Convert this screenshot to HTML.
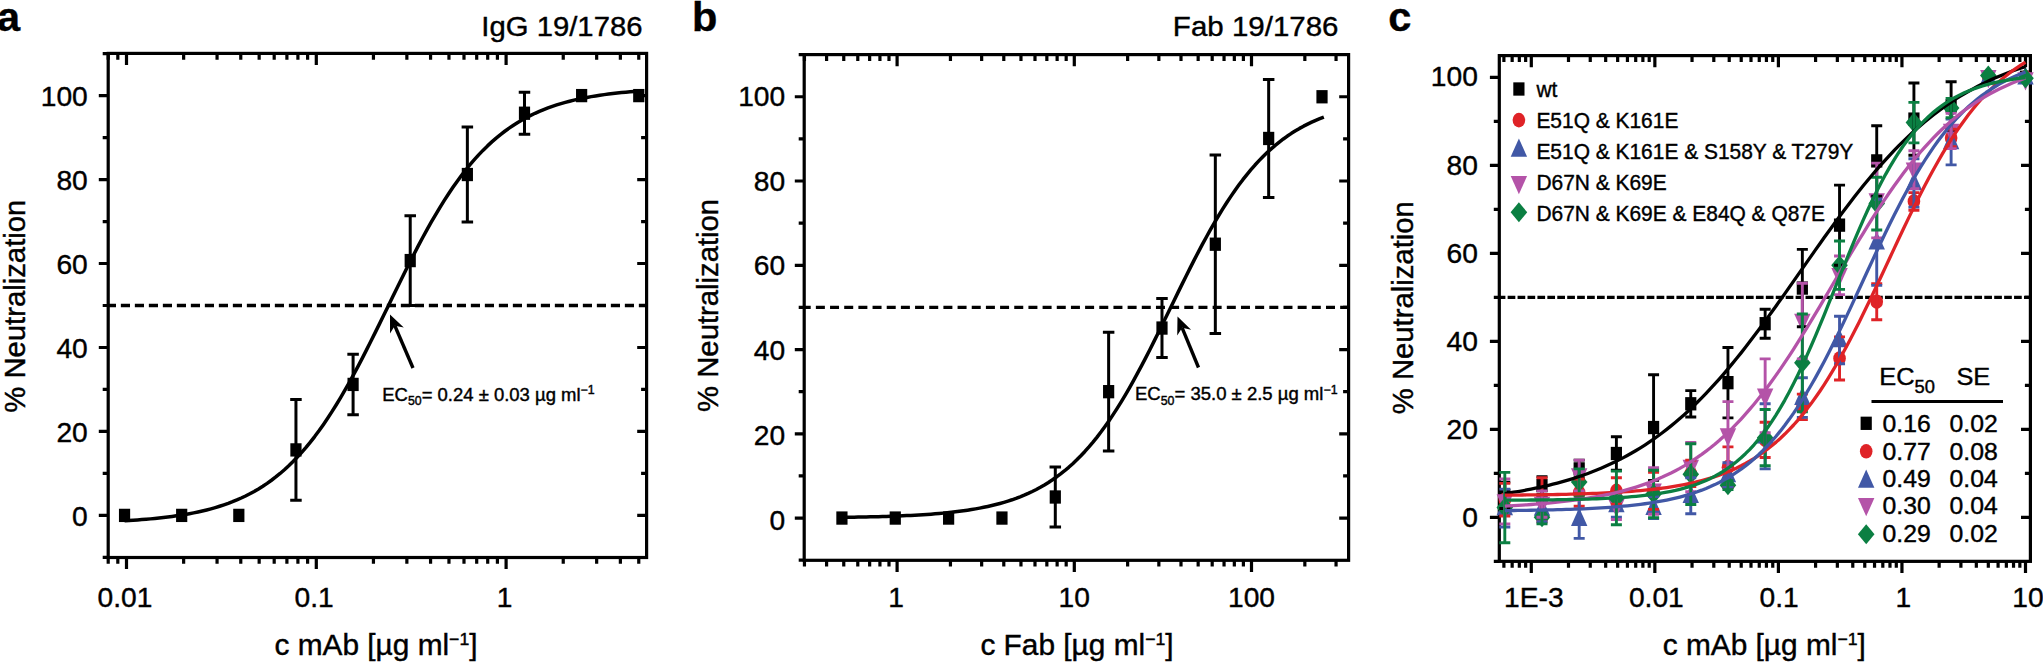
<!DOCTYPE html>
<html><head><meta charset="utf-8"><title>Neutralization curves</title>
<style>html,body{margin:0;padding:0;background:#fff}svg{display:block}text{font-family:"Liberation Sans", Arial, Helvetica, sans-serif;fill:#000;stroke:#000;stroke-width:.4px}</style>
</head><body>
<svg width="2043" height="662" viewBox="0 0 2043 662">
<rect width="2043" height="662" fill="#fff"/>
<rect x="108.2" y="53.4" width="538.4" height="504.1" fill="none" stroke="#000" stroke-width="3.2"/>
<path d="M108.2 515.4h-9.4M646.6 515.4h-9.4M108.2 431.44h-9.4M646.6 431.44h-9.4M108.2 347.48h-9.4M646.6 347.48h-9.4M108.2 263.52h-9.4M646.6 263.52h-9.4M108.2 179.56h-9.4M646.6 179.56h-9.4M108.2 95.6h-9.4M646.6 95.6h-9.4M108.2 557.38h-5.5M108.2 473.42h-5.5M646.6 473.42h-5.5M108.2 389.46h-5.5M646.6 389.46h-5.5M108.2 305.5h-5.5M646.6 305.5h-5.5M108.2 221.54h-5.5M646.6 221.54h-5.5M108.2 137.58h-5.5M646.6 137.58h-5.5M108.2 53.62h-5.5M108.2 53.4v6.3M108.2 557.5v6.3M117.82 53.4v6.3M117.82 557.5v6.3M126.5 53.4v11.6M126.5 557.5v11.6M183.64 53.4v6.3M183.64 557.5v6.3M217.06 53.4v6.3M217.06 557.5v6.3M240.77 53.4v6.3M240.77 557.5v6.3M259.16 53.4v6.3M259.16 557.5v6.3M274.19 53.4v6.3M274.19 557.5v6.3M286.9 53.4v6.3M286.9 557.5v6.3M297.91 53.4v6.3M297.91 557.5v6.3M307.62 53.4v6.3M307.62 557.5v6.3M316.3 53.4v11.6M316.3 557.5v11.6M373.44 53.4v6.3M373.44 557.5v6.3M406.86 53.4v6.3M406.86 557.5v6.3M430.57 53.4v6.3M430.57 557.5v6.3M448.96 53.4v6.3M448.96 557.5v6.3M463.99 53.4v6.3M463.99 557.5v6.3M476.7 53.4v6.3M476.7 557.5v6.3M487.71 53.4v6.3M487.71 557.5v6.3M497.42 53.4v6.3M497.42 557.5v6.3M506.1 53.4v11.6M506.1 557.5v11.6M563.24 53.4v6.3M563.24 557.5v6.3M596.66 53.4v6.3M596.66 557.5v6.3M620.37 53.4v6.3M620.37 557.5v6.3M638.76 53.4v6.3M638.76 557.5v6.3" fill="none" stroke="#000" stroke-width="3.2"/>
<text transform="translate(87.8 526.2) scale(0.993 1)" text-anchor="end" font-size="28.4">0</text>
<text transform="translate(87.8 442.1) scale(0.993 1)" text-anchor="end" font-size="28.4">20</text>
<text transform="translate(87.8 358) scale(0.993 1)" text-anchor="end" font-size="28.4">40</text>
<text transform="translate(87.8 273.9) scale(0.993 1)" text-anchor="end" font-size="28.4">60</text>
<text transform="translate(87.8 189.8) scale(0.993 1)" text-anchor="end" font-size="28.4">80</text>
<text transform="translate(87.8 105.7) scale(0.993 1)" text-anchor="end" font-size="28.4">100</text>
<text transform="translate(125 606.9) scale(0.993 1)" text-anchor="middle" font-size="28.4">0.01</text>
<text transform="translate(314.1 606.9) scale(0.993 1)" text-anchor="middle" font-size="28.4">0.1</text>
<text transform="translate(504.6 606.9) scale(0.993 1)" text-anchor="middle" font-size="28.4">1</text>
<text transform="translate(25.4 306.2) rotate(-90) scale(1.02 1)" text-anchor="middle" font-size="28.7">% Neutralization</text>
<text transform="translate(376 655.2) scale(1.04 1)" text-anchor="middle" font-size="28.7">c mAb [µg ml<tspan font-size="17" dy="-10.5">−1</tspan><tspan dy="10.5">]</tspan></text>
<path d="M108.2 305.5H646.6" stroke="#000" stroke-width="3.3" stroke-dasharray="9.15 4.85" stroke-dashoffset="1.35" fill="none"/>
<text x="-3" y="31" font-size="41.5" font-weight="bold" stroke="none">a</text>
<text transform="translate(642.5 36) scale(1.035 1)" text-anchor="end" font-size="28.3">IgG 19/1786</text>
<path d="M295.95 399.54V500.29M290.2 399.54h11.5M290.2 500.29h11.5" fill="none" stroke="#000" stroke-width="3.0"/>
<path d="M353.09 354.2V414.65M347.34 354.2h11.5M347.34 414.65h11.5" fill="none" stroke="#000" stroke-width="3.0"/>
<path d="M410.22 215.66V305.5M404.47 215.66h11.5M404.47 305.5h11.5" fill="none" stroke="#000" stroke-width="3.0"/>
<path d="M467.36 127.08V221.96M461.61 127.08h11.5M461.61 221.96h11.5" fill="none" stroke="#000" stroke-width="3.0"/>
<path d="M524.49 92.24V134.22M518.74 92.24h11.5M518.74 134.22h11.5" fill="none" stroke="#000" stroke-width="3.0"/>
<rect x="118.95" y="508.75" width="11.2" height="13.3" fill="#000"/>
<rect x="176.08" y="508.75" width="11.2" height="13.3" fill="#000"/>
<rect x="233.22" y="508.75" width="11.2" height="13.3" fill="#000"/>
<rect x="290.35" y="443.26" width="11.2" height="13.3" fill="#000"/>
<rect x="347.49" y="377.77" width="11.2" height="13.3" fill="#000"/>
<rect x="404.62" y="253.93" width="11.2" height="13.3" fill="#000"/>
<rect x="461.76" y="167.87" width="11.2" height="13.3" fill="#000"/>
<rect x="518.89" y="106.58" width="11.2" height="13.3" fill="#000"/>
<rect x="576.03" y="88.95" width="11.2" height="13.3" fill="#000"/>
<rect x="633.16" y="88.95" width="11.2" height="13.3" fill="#000"/>
<path d="M124.55 520.76L128.87 520.51L133.19 520.23L137.51 519.93L141.83 519.61L146.15 519.26L150.47 518.88L154.79 518.47L159.11 518.02L163.44 517.54L167.76 517.02L172.08 516.46L176.4 515.85L180.72 515.19L185.04 514.48L189.36 513.7L193.68 512.87L198 511.97L202.33 511L206.65 509.95L210.97 508.82L215.29 507.6L219.61 506.28L223.93 504.86L228.25 503.34L232.57 501.69L236.9 499.92L241.22 498.02L245.54 495.98L249.86 493.79L254.18 491.44L258.5 488.92L262.82 486.22L267.14 483.33L271.46 480.25L275.79 476.96L280.11 473.45L284.43 469.72L288.75 465.75L293.07 461.53L297.39 457.07L301.71 452.34L306.03 447.36L310.36 442.1L314.68 436.56L319 430.75L323.32 424.66L327.64 418.3L331.96 411.66L336.28 404.76L340.6 397.6L344.92 390.18L349.25 382.53L353.57 374.66L357.89 366.58L362.21 358.32L366.53 349.89L370.85 341.32L375.17 332.64L379.49 323.87L383.82 315.04L388.14 306.17L392.46 297.31L396.78 288.47L401.1 279.69L405.42 270.99L409.74 262.4L414.06 253.95L418.38 245.66L422.71 237.55L427.03 229.65L431.35 221.96L435.67 214.51L439.99 207.31L444.31 200.37L448.63 193.69L452.95 187.28L457.28 181.15L461.6 175.3L465.92 169.73L470.24 164.42L474.56 159.39L478.88 154.63L483.2 150.13L487.52 145.88L491.84 141.87L496.17 138.1L500.49 134.56L504.81 131.24L509.13 128.12L513.45 125.21L517.77 122.48L522.09 119.93L526.41 117.56L530.74 115.34L535.06 113.28L539.38 111.35L543.7 109.57L548.02 107.9L552.34 106.36L556.66 104.93L560.98 103.59L565.3 102.36L569.63 101.21L573.95 100.15L578.27 99.17L582.59 98.26L586.91 97.42L591.23 96.64L595.55 95.92L599.87 95.25L604.2 94.63L608.52 94.06L612.84 93.53L617.16 93.05L621.48 92.6L625.8 92.18L630.12 91.8L634.44 91.44L638.76 91.11" fill="none" stroke="#000" stroke-width="3.5" stroke-linejoin="round"/>
<path d="M413 368L394.84 325.75" stroke="#000" stroke-width="3.4" fill="none"/>
<path d="M390 314.5L403.8 327.62L394.84 325.75L390.02 333.54Z" fill="#000"/>
<text x="382.3" y="400.5" font-size="18" textLength="212.3" lengthAdjust="spacingAndGlyphs">EC<tspan font-size="12" dy="4.2">50</tspan><tspan dy="-4.2">= 0.24 ± 0.03 µg ml</tspan><tspan font-size="12" dy="-6.5">−1</tspan></text>
<rect x="804.2" y="54.6" width="544.4" height="505.7" fill="none" stroke="#000" stroke-width="3.2"/>
<path d="M804.2 518.06h-9.4M1348.6 518.06h-9.4M804.2 433.8h-9.4M1348.6 433.8h-9.4M804.2 349.54h-9.4M1348.6 349.54h-9.4M804.2 265.28h-9.4M1348.6 265.28h-9.4M804.2 181.02h-9.4M1348.6 181.02h-9.4M804.2 96.76h-9.4M1348.6 96.76h-9.4M804.2 560.19h-5.5M804.2 475.93h-5.5M1348.6 475.93h-5.5M804.2 391.67h-5.5M1348.6 391.67h-5.5M804.2 307.41h-5.5M1348.6 307.41h-5.5M804.2 223.15h-5.5M1348.6 223.15h-5.5M804.2 138.89h-5.5M1348.6 138.89h-5.5M804.2 54.63h-5.5M804.45 54.6v6.3M804.45 560.3v6.3M826.59 54.6v6.3M826.59 560.3v6.3M843.76 54.6v6.3M843.76 560.3v6.3M857.79 54.6v6.3M857.79 560.3v6.3M869.65 54.6v6.3M869.65 560.3v6.3M879.93 54.6v6.3M879.93 560.3v6.3M888.99 54.6v6.3M888.99 560.3v6.3M897.1 54.6v11.6M897.1 560.3v11.6M950.44 54.6v6.3M950.44 560.3v6.3M981.65 54.6v6.3M981.65 560.3v6.3M1003.79 54.6v6.3M1003.79 560.3v6.3M1020.96 54.6v6.3M1020.96 560.3v6.3M1034.99 54.6v6.3M1034.99 560.3v6.3M1046.85 54.6v6.3M1046.85 560.3v6.3M1057.13 54.6v6.3M1057.13 560.3v6.3M1066.19 54.6v6.3M1066.19 560.3v6.3M1074.3 54.6v11.6M1074.3 560.3v11.6M1127.64 54.6v6.3M1127.64 560.3v6.3M1158.85 54.6v6.3M1158.85 560.3v6.3M1180.99 54.6v6.3M1180.99 560.3v6.3M1198.16 54.6v6.3M1198.16 560.3v6.3M1212.19 54.6v6.3M1212.19 560.3v6.3M1224.05 54.6v6.3M1224.05 560.3v6.3M1234.33 54.6v6.3M1234.33 560.3v6.3M1243.39 54.6v6.3M1243.39 560.3v6.3M1251.5 54.6v11.6M1251.5 560.3v11.6M1304.84 54.6v6.3M1304.84 560.3v6.3M1336.05 54.6v6.3M1336.05 560.3v6.3" fill="none" stroke="#000" stroke-width="3.2"/>
<text transform="translate(785.2 529.76) scale(0.993 1)" text-anchor="end" font-size="28.4">0</text>
<text transform="translate(785.2 444.96) scale(0.993 1)" text-anchor="end" font-size="28.4">20</text>
<text transform="translate(785.2 360.16) scale(0.993 1)" text-anchor="end" font-size="28.4">40</text>
<text transform="translate(785.2 275.36) scale(0.993 1)" text-anchor="end" font-size="28.4">60</text>
<text transform="translate(785.2 190.56) scale(0.993 1)" text-anchor="end" font-size="28.4">80</text>
<text transform="translate(785.2 105.76) scale(0.993 1)" text-anchor="end" font-size="28.4">100</text>
<text transform="translate(896.1 606.9) scale(0.993 1)" text-anchor="middle" font-size="28.4">1</text>
<text transform="translate(1074.3 606.9) scale(0.993 1)" text-anchor="middle" font-size="28.4">10</text>
<text transform="translate(1251.5 606.9) scale(0.993 1)" text-anchor="middle" font-size="28.4">100</text>
<text transform="translate(717.6 305.4) rotate(-90) scale(1.02 1)" text-anchor="middle" font-size="28.7">% Neutralization</text>
<text transform="translate(1077 655.2) scale(1.04 1)" text-anchor="middle" font-size="28.7">c Fab [µg ml<tspan font-size="17" dy="-10.5">−1</tspan><tspan dy="10.5">]</tspan></text>
<path d="M804.2 307.41H1348.6" stroke="#000" stroke-width="3.3" stroke-dasharray="9.0 5.17" stroke-dashoffset="2.5" fill="none"/>
<text x="692" y="31" font-size="41.5" font-weight="bold" stroke="none">b</text>
<text transform="translate(1338.5 36) scale(1.035 1)" text-anchor="end" font-size="28.5">Fab 19/1786</text>
<path d="M1055.3 467.08V526.91M1049.55 467.08h11.5M1049.55 526.91h11.5" fill="none" stroke="#000" stroke-width="3.0"/>
<path d="M1108.64 332.27V451.07M1102.89 332.27h11.5M1102.89 451.07h11.5" fill="none" stroke="#000" stroke-width="3.0"/>
<path d="M1161.99 298.56V357.54M1156.24 298.56h11.5M1156.24 357.54h11.5" fill="none" stroke="#000" stroke-width="3.0"/>
<path d="M1215.33 154.9V333.53M1209.58 154.9h11.5M1209.58 333.53h11.5" fill="none" stroke="#000" stroke-width="3.0"/>
<path d="M1268.67 79.49V197.45M1262.92 79.49h11.5M1262.92 197.45h11.5" fill="none" stroke="#000" stroke-width="3.0"/>
<rect x="836.33" y="511.41" width="11.2" height="13.3" fill="#000"/>
<rect x="889.67" y="511.41" width="11.2" height="13.3" fill="#000"/>
<rect x="943.02" y="511.41" width="11.2" height="13.3" fill="#000"/>
<rect x="996.36" y="511.41" width="11.2" height="13.3" fill="#000"/>
<rect x="1049.7" y="490.34" width="11.2" height="13.3" fill="#000"/>
<rect x="1103.04" y="385.02" width="11.2" height="13.3" fill="#000"/>
<rect x="1156.39" y="321.4" width="11.2" height="13.3" fill="#000"/>
<rect x="1209.73" y="237.56" width="11.2" height="13.3" fill="#000"/>
<rect x="1263.07" y="131.82" width="11.2" height="13.3" fill="#000"/>
<rect x="1316.41" y="90.11" width="11.2" height="13.3" fill="#000"/>
<path d="M841.93 517.37L845.98 517.31L850.03 517.25L854.08 517.18L858.13 517.11L862.18 517.03L866.23 516.95L870.28 516.86L874.33 516.76L878.38 516.65L882.43 516.54L886.48 516.41L890.53 516.28L894.58 516.13L898.63 515.97L902.68 515.8L906.73 515.62L910.78 515.42L914.83 515.21L918.88 514.97L922.93 514.72L926.97 514.45L931.02 514.16L935.07 513.84L939.12 513.49L943.17 513.12L947.22 512.72L951.27 512.29L955.32 511.82L959.37 511.32L963.42 510.78L967.47 510.19L971.52 509.56L975.57 508.87L979.62 508.14L983.67 507.34L987.72 506.49L991.77 505.56L995.82 504.57L999.87 503.5L1003.92 502.35L1007.97 501.11L1012.02 499.78L1016.07 498.35L1020.12 496.81L1024.17 495.16L1028.22 493.39L1032.27 491.49L1036.32 489.46L1040.36 487.28L1044.41 484.95L1048.46 482.46L1052.51 479.8L1056.56 476.97L1060.61 473.94L1064.66 470.73L1068.71 467.31L1072.76 463.68L1076.81 459.83L1080.86 455.75L1084.91 451.45L1088.96 446.9L1093.01 442.11L1097.06 437.07L1101.11 431.78L1105.16 426.24L1109.21 420.44L1113.26 414.4L1117.31 408.11L1121.36 401.57L1125.41 394.8L1129.46 387.81L1133.51 380.6L1137.56 373.2L1141.61 365.6L1145.66 357.84L1149.71 349.94L1153.76 341.9L1157.8 333.76L1161.85 325.54L1165.9 317.27L1169.95 308.96L1174 300.65L1178.05 292.36L1182.1 284.12L1186.15 275.94L1190.2 267.87L1194.25 259.91L1198.3 252.09L1202.35 244.43L1206.4 236.96L1210.45 229.67L1214.5 222.6L1218.55 215.74L1222.6 209.12L1226.65 202.74L1230.7 196.6L1234.75 190.71L1238.8 185.08L1242.85 179.69L1246.9 174.56L1250.95 169.68L1255 165.04L1259.05 160.65L1263.1 156.48L1267.15 152.55L1271.19 148.84L1275.24 145.34L1279.29 142.05L1283.34 138.96L1287.39 136.05L1291.44 133.33L1295.49 130.78L1299.54 128.39L1303.59 126.16L1307.64 124.07L1311.69 122.12L1315.74 120.31L1319.79 118.61L1323.84 117.03" fill="none" stroke="#000" stroke-width="3.5" stroke-linejoin="round"/>
<path d="M1198.5 367.5L1182.16 327.83" stroke="#000" stroke-width="3.4" fill="none"/>
<path d="M1177.5 316.5L1191.1 329.83L1182.16 327.83L1177.23 335.54Z" fill="#000"/>
<text x="1135" y="400.3" font-size="18" textLength="202.5" lengthAdjust="spacingAndGlyphs">EC<tspan font-size="12" dy="4.2">50</tspan><tspan dy="-4.2">= 35.0 ± 2.5 µg ml</tspan><tspan font-size="12" dy="-6.5">−1</tspan></text>
<rect x="1499.3" y="55.6" width="531.1" height="505.75" fill="none" stroke="#000" stroke-width="3.2"/>
<path d="M1499.3 517.3h-9.4M2030.4 517.3h-9.4M1499.3 429.3h-9.4M2030.4 429.3h-9.4M1499.3 341.3h-9.4M2030.4 341.3h-9.4M1499.3 253.3h-9.4M2030.4 253.3h-9.4M1499.3 165.3h-9.4M2030.4 165.3h-9.4M1499.3 77.3h-9.4M2030.4 77.3h-9.4M1499.3 561.3h-5.5M1499.3 473.3h-5.5M2030.4 473.3h-5.5M1499.3 385.3h-5.5M2030.4 385.3h-5.5M1499.3 297.3h-5.5M2030.4 297.3h-5.5M1499.3 209.3h-5.5M2030.4 209.3h-5.5M1499.3 121.3h-5.5M2030.4 121.3h-5.5M1503.89 55.6v6.3M1503.89 561.35v6.3M1512.16 55.6v6.3M1512.16 561.35v6.3M1519.33 55.6v6.3M1519.33 561.35v6.3M1525.65 55.6v6.3M1525.65 561.35v6.3M1531.3 55.6v11.6M1531.3 561.35v11.6M1568.49 55.6v6.3M1568.49 561.35v6.3M1590.25 55.6v6.3M1590.25 561.35v6.3M1605.68 55.6v6.3M1605.68 561.35v6.3M1617.66 55.6v6.3M1617.66 561.35v6.3M1627.44 55.6v6.3M1627.44 561.35v6.3M1635.71 55.6v6.3M1635.71 561.35v6.3M1642.88 55.6v6.3M1642.88 561.35v6.3M1649.2 55.6v6.3M1649.2 561.35v6.3M1654.85 55.6v11.6M1654.85 561.35v11.6M1692.04 55.6v6.3M1692.04 561.35v6.3M1713.8 55.6v6.3M1713.8 561.35v6.3M1729.23 55.6v6.3M1729.23 561.35v6.3M1741.21 55.6v6.3M1741.21 561.35v6.3M1750.99 55.6v6.3M1750.99 561.35v6.3M1759.26 55.6v6.3M1759.26 561.35v6.3M1766.43 55.6v6.3M1766.43 561.35v6.3M1772.75 55.6v6.3M1772.75 561.35v6.3M1778.4 55.6v11.6M1778.4 561.35v11.6M1815.59 55.6v6.3M1815.59 561.35v6.3M1837.35 55.6v6.3M1837.35 561.35v6.3M1852.78 55.6v6.3M1852.78 561.35v6.3M1864.76 55.6v6.3M1864.76 561.35v6.3M1874.54 55.6v6.3M1874.54 561.35v6.3M1882.81 55.6v6.3M1882.81 561.35v6.3M1889.98 55.6v6.3M1889.98 561.35v6.3M1896.3 55.6v6.3M1896.3 561.35v6.3M1901.95 55.6v11.6M1901.95 561.35v11.6M1939.14 55.6v6.3M1939.14 561.35v6.3M1960.9 55.6v6.3M1960.9 561.35v6.3M1976.33 55.6v6.3M1976.33 561.35v6.3M1988.31 55.6v6.3M1988.31 561.35v6.3M1998.09 55.6v6.3M1998.09 561.35v6.3M2006.36 55.6v6.3M2006.36 561.35v6.3M2013.53 55.6v6.3M2013.53 561.35v6.3M2019.85 55.6v6.3M2019.85 561.35v6.3M2025.5 55.6v11.6M2025.5 561.35v11.6" fill="none" stroke="#000" stroke-width="3.2"/>
<text transform="translate(1477.9 527.2) scale(0.993 1)" text-anchor="end" font-size="28.4">0</text>
<text transform="translate(1477.9 439.04) scale(0.993 1)" text-anchor="end" font-size="28.4">20</text>
<text transform="translate(1477.9 350.88) scale(0.993 1)" text-anchor="end" font-size="28.4">40</text>
<text transform="translate(1477.9 262.72) scale(0.993 1)" text-anchor="end" font-size="28.4">60</text>
<text transform="translate(1477.9 174.56) scale(0.993 1)" text-anchor="end" font-size="28.4">80</text>
<text transform="translate(1477.9 86.4) scale(0.993 1)" text-anchor="end" font-size="28.4">100</text>
<text transform="translate(1533.8 606.9) scale(0.993 1)" text-anchor="middle" font-size="28.4">1E-3</text>
<text transform="translate(1656.35 606.9) scale(0.993 1)" text-anchor="middle" font-size="28.4">0.01</text>
<text transform="translate(1779.2 606.9) scale(0.993 1)" text-anchor="middle" font-size="28.4">0.1</text>
<text transform="translate(1903.45 606.9) scale(0.993 1)" text-anchor="middle" font-size="28.4">1</text>
<text transform="translate(2028 606.9) scale(0.993 1)" text-anchor="middle" font-size="28.4">10</text>
<text transform="translate(1413.2 307.7) rotate(-90) scale(1.02 1)" text-anchor="middle" font-size="28.7">% Neutralization</text>
<text transform="translate(1764.3 655.2) scale(1.04 1)" text-anchor="middle" font-size="28.7">c mAb [µg ml<tspan font-size="17" dy="-10.5">−1</tspan><tspan dy="10.5">]</tspan></text>
<path d="M1499.3 297.3H2030.4" stroke="#000" stroke-width="3.3" stroke-dasharray="7.7 2.23" stroke-dashoffset="1.6" fill="none"/>
<text x="1388.3" y="31" font-size="41.5" font-weight="bold" stroke="none">c</text>
<g>
<rect x="1499.21" y="488.65" width="11.2" height="13.3" fill="#000000"/>
<rect x="1536.4" y="478.97" width="11.2" height="13.3" fill="#000000"/>
<rect x="1573.59" y="462.25" width="11.2" height="13.3" fill="#000000"/>
<rect x="1610.79" y="446.85" width="11.2" height="13.3" fill="#000000"/>
<rect x="1647.98" y="420.89" width="11.2" height="13.3" fill="#000000"/>
<rect x="1685.17" y="397.13" width="11.2" height="13.3" fill="#000000"/>
<rect x="1722.36" y="376.01" width="11.2" height="13.3" fill="#000000"/>
<rect x="1759.55" y="317.05" width="11.2" height="13.3" fill="#000000"/>
<rect x="1796.75" y="281.41" width="11.2" height="13.3" fill="#000000"/>
<rect x="1833.94" y="218.49" width="11.2" height="13.3" fill="#000000"/>
<rect x="1871.13" y="154.25" width="11.2" height="13.3" fill="#000000"/>
<rect x="1908.32" y="112.45" width="11.2" height="13.3" fill="#000000"/>
<rect x="1945.52" y="99.25" width="11.2" height="13.3" fill="#000000"/>
<rect x="1982.71" y="70.65" width="11.2" height="13.3" fill="#000000"/>
<rect x="2019.9" y="70.65" width="11.2" height="13.3" fill="#000000"/>
<ellipse cx="1504.81" cy="499.7" rx="6.3" ry="7.3" fill="#DF2327"/>
<ellipse cx="1542" cy="499.7" rx="6.3" ry="7.3" fill="#DF2327"/>
<ellipse cx="1579.19" cy="492.66" rx="6.3" ry="7.3" fill="#DF2327"/>
<ellipse cx="1616.39" cy="490.9" rx="6.3" ry="7.3" fill="#DF2327"/>
<ellipse cx="1653.58" cy="490.9" rx="6.3" ry="7.3" fill="#DF2327"/>
<ellipse cx="1690.77" cy="473.3" rx="6.3" ry="7.3" fill="#DF2327"/>
<ellipse cx="1727.96" cy="467.14" rx="6.3" ry="7.3" fill="#DF2327"/>
<ellipse cx="1765.15" cy="439.86" rx="6.3" ry="7.3" fill="#DF2327"/>
<ellipse cx="1802.35" cy="406.86" rx="6.3" ry="7.3" fill="#DF2327"/>
<ellipse cx="1839.54" cy="358.46" rx="6.3" ry="7.3" fill="#DF2327"/>
<ellipse cx="1876.73" cy="301.7" rx="6.3" ry="7.3" fill="#DF2327"/>
<ellipse cx="1913.92" cy="201.38" rx="6.3" ry="7.3" fill="#DF2327"/>
<ellipse cx="1951.12" cy="138.02" rx="6.3" ry="7.3" fill="#DF2327"/>
<ellipse cx="1988.31" cy="77.3" rx="6.3" ry="7.3" fill="#DF2327"/>
<ellipse cx="2025.5" cy="77.3" rx="6.3" ry="7.3" fill="#DF2327"/>
<path d="M1504.81 497.14L1513.01 515.34L1496.61 515.34Z" fill="#4158A6"/>
<path d="M1542 497.58L1550.2 515.78L1533.8 515.78Z" fill="#4158A6"/>
<path d="M1579.19 507.7L1587.39 525.9L1570.99 525.9Z" fill="#4158A6"/>
<path d="M1616.39 494.06L1624.59 512.26L1608.19 512.26Z" fill="#4158A6"/>
<path d="M1653.58 496.7L1661.78 514.9L1645.38 514.9Z" fill="#4158A6"/>
<path d="M1690.77 484.82L1698.97 503.02L1682.57 503.02Z" fill="#4158A6"/>
<path d="M1727.96 464.14L1736.16 482.34L1719.76 482.34Z" fill="#4158A6"/>
<path d="M1765.15 425.42L1773.35 443.62L1756.95 443.62Z" fill="#4158A6"/>
<path d="M1802.35 386.7L1810.55 404.9L1794.15 404.9Z" fill="#4158A6"/>
<path d="M1839.54 329.06L1847.74 347.26L1831.34 347.26Z" fill="#4158A6"/>
<path d="M1876.73 231.38L1884.93 249.58L1868.53 249.58Z" fill="#4158A6"/>
<path d="M1913.92 171.98L1922.12 190.18L1905.72 190.18Z" fill="#4158A6"/>
<path d="M1951.12 131.06L1959.32 149.26L1942.92 149.26Z" fill="#4158A6"/>
<path d="M1988.31 66.38L1996.51 84.58L1980.11 84.58Z" fill="#4158A6"/>
<path d="M2025.5 66.38L2033.7 84.58L2017.3 84.58Z" fill="#4158A6"/>
<path d="M1504.81 512.38L1513.01 494.18L1496.61 494.18Z" fill="#B453A8"/>
<path d="M1542 515.02L1550.2 496.82L1533.8 496.82Z" fill="#B453A8"/>
<path d="M1579.19 486.42L1587.39 468.22L1570.99 468.22Z" fill="#B453A8"/>
<path d="M1616.39 517.22L1624.59 499.02L1608.19 499.02Z" fill="#B453A8"/>
<path d="M1653.58 501.82L1661.78 483.62L1645.38 483.62Z" fill="#B453A8"/>
<path d="M1690.77 478.06L1698.97 459.86L1682.57 459.86Z" fill="#B453A8"/>
<path d="M1727.96 446.38L1736.16 428.18L1719.76 428.18Z" fill="#B453A8"/>
<path d="M1765.15 406.78L1773.35 388.58L1756.95 388.58Z" fill="#B453A8"/>
<path d="M1802.35 331.98L1810.55 313.78L1794.15 313.78Z" fill="#B453A8"/>
<path d="M1839.54 286.22L1847.74 268.02L1831.34 268.02Z" fill="#B453A8"/>
<path d="M1876.73 211.42L1884.93 193.22L1868.53 193.22Z" fill="#B453A8"/>
<path d="M1913.92 180.62L1922.12 162.42L1905.72 162.42Z" fill="#B453A8"/>
<path d="M1951.12 141.9L1959.32 123.7L1942.92 123.7Z" fill="#B453A8"/>
<path d="M1988.31 88.22L1996.51 70.02L1980.11 70.02Z" fill="#B453A8"/>
<path d="M2025.5 90.42L2033.7 72.22L2017.3 72.22Z" fill="#B453A8"/>
<path d="M1504.81 497.62L1513.11 507.62L1504.81 517.62L1496.51 507.62Z" fill="#0B7F42"/>
<path d="M1542 507.3L1550.3 517.3L1542 527.3L1533.7 517.3Z" fill="#0B7F42"/>
<path d="M1579.19 472.1L1587.49 482.1L1579.19 492.1L1570.89 482.1Z" fill="#0B7F42"/>
<path d="M1616.39 487.94L1624.69 497.94L1616.39 507.94L1608.09 497.94Z" fill="#0B7F42"/>
<path d="M1653.58 483.98L1661.88 493.98L1653.58 503.98L1645.28 493.98Z" fill="#0B7F42"/>
<path d="M1690.77 464.18L1699.07 474.18L1690.77 484.18L1682.47 474.18Z" fill="#0B7F42"/>
<path d="M1727.96 475.18L1736.26 485.18L1727.96 495.18L1719.66 485.18Z" fill="#0B7F42"/>
<path d="M1765.15 427.66L1773.45 437.66L1765.15 447.66L1756.85 437.66Z" fill="#0B7F42"/>
<path d="M1802.35 352.86L1810.65 362.86L1802.35 372.86L1794.05 362.86Z" fill="#0B7F42"/>
<path d="M1839.54 255.18L1847.84 265.18L1839.54 275.18L1831.24 265.18Z" fill="#0B7F42"/>
<path d="M1876.73 193.58L1885.03 203.58L1876.73 213.58L1868.43 203.58Z" fill="#0B7F42"/>
<path d="M1913.92 112.62L1922.22 122.62L1913.92 132.62L1905.62 122.62Z" fill="#0B7F42"/>
<path d="M1951.12 98.1L1959.42 108.1L1951.12 118.1L1942.82 108.1Z" fill="#0B7F42"/>
<path d="M1988.31 65.54L1996.61 75.54L1988.31 85.54L1980.01 75.54Z" fill="#0B7F42"/>
<path d="M2025.5 68.18L2033.8 78.18L2025.5 88.18L2017.2 78.18Z" fill="#0B7F42"/>
<path d="M1504.81 482.1V508.5M1499.31 482.1h11M1499.31 508.5h11" fill="none" stroke="#000000" stroke-width="2.9"/>
<path d="M1542 476.82V494.42M1536.5 476.82h11M1536.5 494.42h11" fill="none" stroke="#000000" stroke-width="2.9"/>
<path d="M1579.19 460.1V477.7M1573.69 460.1h11M1573.69 477.7h11" fill="none" stroke="#000000" stroke-width="2.9"/>
<path d="M1616.39 436.78V470.22M1610.89 436.78h11M1610.89 470.22h11" fill="none" stroke="#000000" stroke-width="2.9"/>
<path d="M1653.58 374.74V480.34M1648.08 374.74h11M1648.08 480.34h11" fill="none" stroke="#000000" stroke-width="2.9"/>
<path d="M1690.77 390.58V416.98M1685.27 390.58h11M1685.27 416.98h11" fill="none" stroke="#000000" stroke-width="2.9"/>
<path d="M1727.96 347.46V417.86M1722.46 347.46h11M1722.46 417.86h11" fill="none" stroke="#000000" stroke-width="2.9"/>
<path d="M1765.15 309.18V338.22M1759.65 309.18h11M1759.65 338.22h11" fill="none" stroke="#000000" stroke-width="2.9"/>
<path d="M1802.35 249.34V326.78M1796.85 249.34h11M1796.85 326.78h11" fill="none" stroke="#000000" stroke-width="2.9"/>
<path d="M1839.54 185.1V265.18M1834.04 185.1h11M1834.04 265.18h11" fill="none" stroke="#000000" stroke-width="2.9"/>
<path d="M1876.73 125.7V196.1M1871.23 125.7h11M1871.23 196.1h11" fill="none" stroke="#000000" stroke-width="2.9"/>
<path d="M1913.92 83.02V155.18M1908.42 83.02h11M1908.42 155.18h11" fill="none" stroke="#000000" stroke-width="2.9"/>
<path d="M1951.12 81.7V130.1M1945.62 81.7h11M1945.62 130.1h11" fill="none" stroke="#000000" stroke-width="2.9"/>
<path d="M1504.81 483.42V515.98M1499.31 483.42h11M1499.31 515.98h11" fill="none" stroke="#DF2327" stroke-width="2.9"/>
<path d="M1542 477.7V521.7M1536.5 477.7h11M1536.5 521.7h11" fill="none" stroke="#DF2327" stroke-width="2.9"/>
<path d="M1579.19 479.02V506.3M1573.69 479.02h11M1573.69 506.3h11" fill="none" stroke="#DF2327" stroke-width="2.9"/>
<path d="M1616.39 477.7V504.1M1610.89 477.7h11M1610.89 504.1h11" fill="none" stroke="#DF2327" stroke-width="2.9"/>
<path d="M1653.58 472.42V509.38M1648.08 472.42h11M1648.08 509.38h11" fill="none" stroke="#DF2327" stroke-width="2.9"/>
<path d="M1690.77 460.1V486.5M1685.27 460.1h11M1685.27 486.5h11" fill="none" stroke="#DF2327" stroke-width="2.9"/>
<path d="M1727.96 446.9V487.38M1722.46 446.9h11M1722.46 487.38h11" fill="none" stroke="#DF2327" stroke-width="2.9"/>
<path d="M1765.15 422.26V457.46M1759.65 422.26h11M1759.65 457.46h11" fill="none" stroke="#DF2327" stroke-width="2.9"/>
<path d="M1802.35 394.1V419.62M1796.85 394.1h11M1796.85 419.62h11" fill="none" stroke="#DF2327" stroke-width="2.9"/>
<path d="M1839.54 336.9V380.02M1834.04 336.9h11M1834.04 380.02h11" fill="none" stroke="#DF2327" stroke-width="2.9"/>
<path d="M1876.73 283.66V319.74M1871.23 283.66h11M1871.23 319.74h11" fill="none" stroke="#DF2327" stroke-width="2.9"/>
<path d="M1913.92 192.58V210.18M1908.42 192.58h11M1908.42 210.18h11" fill="none" stroke="#DF2327" stroke-width="2.9"/>
<path d="M1951.12 129.22V146.82M1945.62 129.22h11M1945.62 146.82h11" fill="none" stroke="#DF2327" stroke-width="2.9"/>
<path d="M1504.81 489.14V526.98M1499.31 489.14h11M1499.31 526.98h11" fill="none" stroke="#4158A6" stroke-width="2.9"/>
<path d="M1542 495.3V521.7M1536.5 495.3h11M1536.5 521.7h11" fill="none" stroke="#4158A6" stroke-width="2.9"/>
<path d="M1579.19 498.82V538.42M1573.69 498.82h11M1573.69 538.42h11" fill="none" stroke="#4158A6" stroke-width="2.9"/>
<path d="M1616.39 492.66V517.3M1610.89 492.66h11M1610.89 517.3h11" fill="none" stroke="#4158A6" stroke-width="2.9"/>
<path d="M1653.58 496.62V518.62M1648.08 496.62h11M1648.08 518.62h11" fill="none" stroke="#4158A6" stroke-width="2.9"/>
<path d="M1690.77 477.7V513.78M1685.27 477.7h11M1685.27 513.78h11" fill="none" stroke="#4158A6" stroke-width="2.9"/>
<path d="M1727.96 462.74V487.38M1722.46 462.74h11M1722.46 487.38h11" fill="none" stroke="#4158A6" stroke-width="2.9"/>
<path d="M1765.15 403.78V468.9M1759.65 403.78h11M1759.65 468.9h11" fill="none" stroke="#4158A6" stroke-width="2.9"/>
<path d="M1802.35 377.82V417.42M1796.85 377.82h11M1796.85 417.42h11" fill="none" stroke="#4158A6" stroke-width="2.9"/>
<path d="M1839.54 316.22V363.74M1834.04 316.22h11M1834.04 363.74h11" fill="none" stroke="#4158A6" stroke-width="2.9"/>
<path d="M1876.73 199.18V285.42M1871.23 199.18h11M1871.23 285.42h11" fill="none" stroke="#4158A6" stroke-width="2.9"/>
<path d="M1913.92 158.7V207.1M1908.42 158.7h11M1908.42 207.1h11" fill="none" stroke="#4158A6" stroke-width="2.9"/>
<path d="M1951.12 119.1V164.86M1945.62 119.1h11M1945.62 164.86h11" fill="none" stroke="#4158A6" stroke-width="2.9"/>
<path d="M1504.81 479.02V523.9M1499.31 479.02h11M1499.31 523.9h11" fill="none" stroke="#B453A8" stroke-width="2.9"/>
<path d="M1542 490.9V517.3M1536.5 490.9h11M1536.5 517.3h11" fill="none" stroke="#B453A8" stroke-width="2.9"/>
<path d="M1579.19 460.1V490.9M1573.69 460.1h11M1573.69 490.9h11" fill="none" stroke="#B453A8" stroke-width="2.9"/>
<path d="M1616.39 493.1V519.5M1610.89 493.1h11M1610.89 519.5h11" fill="none" stroke="#B453A8" stroke-width="2.9"/>
<path d="M1653.58 467.58V514.22M1648.08 467.58h11M1648.08 514.22h11" fill="none" stroke="#B453A8" stroke-width="2.9"/>
<path d="M1690.77 442.5V491.78M1685.27 442.5h11M1685.27 491.78h11" fill="none" stroke="#B453A8" stroke-width="2.9"/>
<path d="M1727.96 401.58V469.34M1722.46 401.58h11M1722.46 469.34h11" fill="none" stroke="#B453A8" stroke-width="2.9"/>
<path d="M1765.15 358.9V432.82M1759.65 358.9h11M1759.65 432.82h11" fill="none" stroke="#B453A8" stroke-width="2.9"/>
<path d="M1802.35 283.22V358.9M1796.85 283.22h11M1796.85 358.9h11" fill="none" stroke="#B453A8" stroke-width="2.9"/>
<path d="M1839.54 255.94V294.66M1834.04 255.94h11M1834.04 294.66h11" fill="none" stroke="#B453A8" stroke-width="2.9"/>
<path d="M1876.73 163.1V237.9M1871.23 163.1h11M1871.23 237.9h11" fill="none" stroke="#B453A8" stroke-width="2.9"/>
<path d="M1913.92 150.78V188.62M1908.42 150.78h11M1908.42 188.62h11" fill="none" stroke="#B453A8" stroke-width="2.9"/>
<path d="M1951.12 113.38V148.58M1945.62 113.38h11M1945.62 148.58h11" fill="none" stroke="#B453A8" stroke-width="2.9"/>
<path d="M1504.81 472.42V542.82M1499.31 472.42h11M1499.31 542.82h11" fill="none" stroke="#0B7F42" stroke-width="2.9"/>
<path d="M1542 510.7V523.9M1536.5 510.7h11M1536.5 523.9h11" fill="none" stroke="#0B7F42" stroke-width="2.9"/>
<path d="M1579.19 468.9V495.3M1573.69 468.9h11M1573.69 495.3h11" fill="none" stroke="#0B7F42" stroke-width="2.9"/>
<path d="M1616.39 471.1V524.78M1610.89 471.1h11M1610.89 524.78h11" fill="none" stroke="#0B7F42" stroke-width="2.9"/>
<path d="M1653.58 470.22V517.74M1648.08 470.22h11M1648.08 517.74h11" fill="none" stroke="#0B7F42" stroke-width="2.9"/>
<path d="M1690.77 443.82V504.54M1685.27 443.82h11M1685.27 504.54h11" fill="none" stroke="#0B7F42" stroke-width="2.9"/>
<path d="M1727.96 480.78V489.58M1722.46 480.78h11M1722.46 489.58h11" fill="none" stroke="#0B7F42" stroke-width="2.9"/>
<path d="M1765.15 409.5V465.82M1759.65 409.5h11M1759.65 465.82h11" fill="none" stroke="#0B7F42" stroke-width="2.9"/>
<path d="M1802.35 314.02V411.7M1796.85 314.02h11M1796.85 411.7h11" fill="none" stroke="#0B7F42" stroke-width="2.9"/>
<path d="M1839.54 240.98V289.38M1834.04 240.98h11M1834.04 289.38h11" fill="none" stroke="#0B7F42" stroke-width="2.9"/>
<path d="M1876.73 177.18V229.98M1871.23 177.18h11M1871.23 229.98h11" fill="none" stroke="#0B7F42" stroke-width="2.9"/>
<path d="M1913.92 102.38V142.86M1908.42 102.38h11M1908.42 142.86h11" fill="none" stroke="#0B7F42" stroke-width="2.9"/>
<path d="M1951.12 98.42V117.78M1945.62 98.42h11M1945.62 117.78h11" fill="none" stroke="#0B7F42" stroke-width="2.9"/>
<path d="M1504.81 493.59L1509.18 492.93L1513.56 492.24L1517.94 491.52L1522.31 490.76L1526.69 489.96L1531.06 489.11L1535.44 488.23L1539.81 487.3L1544.19 486.32L1548.56 485.3L1552.94 484.22L1557.32 483.09L1561.69 481.9L1566.07 480.65L1570.44 479.34L1574.82 477.97L1579.19 476.53L1583.57 475.03L1587.94 473.45L1592.32 471.79L1596.7 470.06L1601.07 468.25L1605.45 466.35L1609.82 464.37L1614.2 462.3L1618.57 460.14L1622.95 457.88L1627.32 455.52L1631.7 453.06L1636.08 450.5L1640.45 447.83L1644.83 445.05L1649.2 442.15L1653.58 439.14L1657.95 436.02L1662.33 432.77L1666.7 429.4L1671.08 425.91L1675.46 422.3L1679.83 418.55L1684.21 414.68L1688.58 410.68L1692.96 406.55L1697.33 402.29L1701.71 397.9L1706.08 393.38L1710.46 388.74L1714.84 383.97L1719.21 379.08L1723.59 374.06L1727.96 368.93L1732.34 363.68L1736.71 358.32L1741.09 352.85L1745.46 347.28L1749.84 341.61L1754.22 335.85L1758.59 330.01L1762.97 324.09L1767.34 318.1L1771.72 312.05L1776.09 305.94L1780.47 299.78L1784.84 293.59L1789.22 287.36L1793.6 281.12L1797.97 274.86L1802.35 268.59L1806.72 262.34L1811.1 256.09L1815.47 249.87L1819.85 243.69L1824.22 237.54L1828.6 231.44L1832.98 225.41L1837.35 219.43L1841.73 213.53L1846.1 207.71L1850.48 201.97L1854.85 196.32L1859.23 190.78L1863.6 185.33L1867.98 180L1872.36 174.78L1876.73 169.67L1881.11 164.68L1885.48 159.82L1889.86 155.07L1894.23 150.46L1898.61 145.97L1902.98 141.61L1907.36 137.38L1911.74 133.28L1916.11 129.31L1920.49 125.47L1924.86 121.76L1929.24 118.17L1933.61 114.71L1937.99 111.37L1942.36 108.15L1946.74 105.05L1951.12 102.07L1955.49 99.2L1959.87 96.45L1964.24 93.8L1968.62 91.26L1972.99 88.83L1977.37 86.49L1981.74 84.26L1986.12 82.11L1990.5 80.06L1994.87 78.1L1999.25 76.23L2003.62 74.43L2008 72.72L2012.37 71.08L2016.75 69.52L2021.12 68.03L2025.5 66.61" fill="none" stroke="#000000" stroke-width="3.3" stroke-linejoin="round"/>
<path d="M1504.81 495.17L1509.18 495.13L1513.56 495.1L1517.94 495.06L1522.31 495.01L1526.69 494.96L1531.06 494.91L1535.44 494.85L1539.81 494.79L1544.19 494.73L1548.56 494.65L1552.94 494.58L1557.32 494.49L1561.69 494.4L1566.07 494.3L1570.44 494.19L1574.82 494.08L1579.19 493.95L1583.57 493.81L1587.94 493.67L1592.32 493.51L1596.7 493.33L1601.07 493.15L1605.45 492.94L1609.82 492.72L1614.2 492.49L1618.57 492.23L1622.95 491.95L1627.32 491.65L1631.7 491.33L1636.08 490.98L1640.45 490.59L1644.83 490.18L1649.2 489.74L1653.58 489.26L1657.95 488.74L1662.33 488.17L1666.7 487.57L1671.08 486.91L1675.46 486.2L1679.83 485.44L1684.21 484.61L1688.58 483.72L1692.96 482.76L1697.33 481.72L1701.71 480.6L1706.08 479.4L1710.46 478.1L1714.84 476.7L1719.21 475.19L1723.59 473.57L1727.96 471.83L1732.34 469.96L1736.71 467.95L1741.09 465.8L1745.46 463.48L1749.84 461.01L1754.22 458.36L1758.59 455.52L1762.97 452.49L1767.34 449.25L1771.72 445.8L1776.09 442.13L1780.47 438.22L1784.84 434.07L1789.22 429.66L1793.6 425L1797.97 420.07L1802.35 414.86L1806.72 409.37L1811.1 403.6L1815.47 397.54L1819.85 391.19L1824.22 384.56L1828.6 377.64L1832.98 370.44L1837.35 362.96L1841.73 355.22L1846.1 347.23L1850.48 339.01L1854.85 330.56L1859.23 321.9L1863.6 313.07L1867.98 304.08L1872.36 294.96L1876.73 285.74L1881.11 276.43L1885.48 267.08L1889.86 257.71L1894.23 248.35L1898.61 239.03L1902.98 229.79L1907.36 220.64L1911.74 211.62L1916.11 202.75L1920.49 194.06L1924.86 185.56L1929.24 177.28L1933.61 169.24L1937.99 161.44L1942.36 153.91L1946.74 146.64L1951.12 139.66L1955.49 132.96L1959.87 126.55L1964.24 120.42L1968.62 114.58L1972.99 109.03L1977.37 103.76L1981.74 98.77L1986.12 94.05L1990.5 89.58L1994.87 85.38L1999.25 81.41L2003.62 77.69L2008 74.19L2012.37 70.91L2016.75 67.83L2021.12 64.95L2025.5 62.26" fill="none" stroke="#DF2327" stroke-width="3.3" stroke-linejoin="round"/>
<path d="M1504.81 510.61L1509.18 510.56L1513.56 510.51L1517.94 510.46L1522.31 510.4L1526.69 510.34L1531.06 510.27L1535.44 510.19L1539.81 510.11L1544.19 510.02L1548.56 509.93L1552.94 509.82L1557.32 509.71L1561.69 509.59L1566.07 509.45L1570.44 509.31L1574.82 509.15L1579.19 508.98L1583.57 508.79L1587.94 508.59L1592.32 508.37L1596.7 508.14L1601.07 507.88L1605.45 507.6L1609.82 507.3L1614.2 506.97L1618.57 506.62L1622.95 506.23L1627.32 505.81L1631.7 505.36L1636.08 504.87L1640.45 504.33L1644.83 503.76L1649.2 503.13L1653.58 502.46L1657.95 501.72L1662.33 500.93L1666.7 500.07L1671.08 499.14L1675.46 498.14L1679.83 497.05L1684.21 495.88L1688.58 494.61L1692.96 493.24L1697.33 491.76L1701.71 490.17L1706.08 488.45L1710.46 486.6L1714.84 484.61L1719.21 482.47L1723.59 480.17L1727.96 477.69L1732.34 475.04L1736.71 472.19L1741.09 469.14L1745.46 465.88L1749.84 462.4L1754.22 458.68L1758.59 454.71L1762.97 450.5L1767.34 446.01L1771.72 441.26L1776.09 436.22L1780.47 430.89L1784.84 425.27L1789.22 419.35L1793.6 413.13L1797.97 406.61L1802.35 399.79L1806.72 392.67L1811.1 385.27L1815.47 377.58L1819.85 369.62L1824.22 361.4L1828.6 352.94L1832.98 344.27L1837.35 335.39L1841.73 326.35L1846.1 317.15L1850.48 307.84L1854.85 298.43L1859.23 288.97L1863.6 279.49L1867.98 270.01L1872.36 260.57L1876.73 251.2L1881.11 241.93L1885.48 232.79L1889.86 223.81L1894.23 215.01L1898.61 206.43L1902.98 198.07L1907.36 189.95L1911.74 182.11L1916.11 174.53L1920.49 167.24L1924.86 160.25L1929.24 153.55L1933.61 147.15L1937.99 141.06L1942.36 135.26L1946.74 129.77L1951.12 124.56L1955.49 119.64L1959.87 115L1964.24 110.63L1968.62 106.51L1972.99 102.65L1977.37 99.03L1981.74 95.64L1986.12 92.47L1990.5 89.51L1994.87 86.74L1999.25 84.16L2003.62 81.76L2008 79.52L2012.37 77.45L2016.75 75.51L2021.12 73.72L2025.5 72.06" fill="none" stroke="#4158A6" stroke-width="3.3" stroke-linejoin="round"/>
<path d="M1504.81 506.03L1509.18 505.81L1513.56 505.58L1517.94 505.33L1522.31 505.06L1526.69 504.78L1531.06 504.48L1535.44 504.16L1539.81 503.81L1544.19 503.45L1548.56 503.06L1552.94 502.64L1557.32 502.2L1561.69 501.73L1566.07 501.23L1570.44 500.69L1574.82 500.12L1579.19 499.52L1583.57 498.87L1587.94 498.18L1592.32 497.45L1596.7 496.67L1601.07 495.85L1605.45 494.97L1609.82 494.03L1614.2 493.03L1618.57 491.98L1622.95 490.85L1627.32 489.66L1631.7 488.39L1636.08 487.05L1640.45 485.62L1644.83 484.11L1649.2 482.5L1653.58 480.8L1657.95 479L1662.33 477.1L1666.7 475.08L1671.08 472.96L1675.46 470.7L1679.83 468.33L1684.21 465.82L1688.58 463.18L1692.96 460.39L1697.33 457.46L1701.71 454.37L1706.08 451.13L1710.46 447.73L1714.84 444.16L1719.21 440.42L1723.59 436.5L1727.96 432.4L1732.34 428.13L1736.71 423.67L1741.09 419.02L1745.46 414.18L1749.84 409.16L1754.22 403.95L1758.59 398.55L1762.97 392.97L1767.34 387.21L1771.72 381.26L1776.09 375.15L1780.47 368.87L1784.84 362.42L1789.22 355.83L1793.6 349.09L1797.97 342.22L1802.35 335.23L1806.72 328.13L1811.1 320.94L1815.47 313.66L1819.85 306.31L1824.22 298.91L1828.6 291.47L1832.98 284.01L1837.35 276.55L1841.73 269.1L1846.1 261.67L1850.48 254.28L1854.85 246.95L1859.23 239.69L1863.6 232.52L1867.98 225.45L1872.36 218.49L1876.73 211.65L1881.11 204.95L1885.48 198.39L1889.86 191.99L1894.23 185.75L1898.61 179.68L1902.98 173.79L1907.36 168.07L1911.74 162.54L1916.11 157.19L1920.49 152.02L1924.86 147.05L1929.24 142.27L1933.61 137.67L1937.99 133.25L1942.36 129.03L1946.74 124.98L1951.12 121.11L1955.49 117.41L1959.87 113.88L1964.24 110.52L1968.62 107.32L1972.99 104.28L1977.37 101.38L1981.74 98.64L1986.12 96.03L1990.5 93.56L1994.87 91.21L1999.25 88.99L2003.62 86.9L2008 84.91L2012.37 83.03L2016.75 81.26L2021.12 79.59L2025.5 78.01" fill="none" stroke="#B453A8" stroke-width="3.3" stroke-linejoin="round"/>
<path d="M1504.81 500.18L1509.18 500.16L1513.56 500.13L1517.94 500.11L1522.31 500.08L1526.69 500.05L1531.06 500.02L1535.44 499.98L1539.81 499.94L1544.19 499.89L1548.56 499.84L1552.94 499.78L1557.32 499.72L1561.69 499.65L1566.07 499.57L1570.44 499.48L1574.82 499.39L1579.19 499.28L1583.57 499.17L1587.94 499.04L1592.32 498.9L1596.7 498.74L1601.07 498.56L1605.45 498.37L1609.82 498.16L1614.2 497.92L1618.57 497.66L1622.95 497.37L1627.32 497.05L1631.7 496.7L1636.08 496.31L1640.45 495.88L1644.83 495.4L1649.2 494.87L1653.58 494.29L1657.95 493.65L1662.33 492.94L1666.7 492.16L1671.08 491.3L1675.46 490.35L1679.83 489.3L1684.21 488.15L1688.58 486.88L1692.96 485.49L1697.33 483.95L1701.71 482.26L1706.08 480.41L1710.46 478.38L1714.84 476.16L1719.21 473.72L1723.59 471.06L1727.96 468.15L1732.34 464.98L1736.71 461.53L1741.09 457.78L1745.46 453.71L1749.84 449.3L1754.22 444.54L1758.59 439.4L1762.97 433.88L1767.34 427.95L1771.72 421.62L1776.09 414.86L1780.47 407.67L1784.84 400.06L1789.22 392.02L1793.6 383.57L1797.97 374.73L1802.35 365.5L1806.72 355.91L1811.1 346.01L1815.47 335.82L1819.85 325.38L1824.22 314.76L1828.6 303.98L1832.98 293.12L1837.35 282.22L1841.73 271.35L1846.1 260.55L1850.48 249.88L1854.85 239.4L1859.23 229.15L1863.6 219.17L1867.98 209.51L1872.36 200.19L1876.73 191.25L1881.11 182.71L1885.48 174.58L1889.86 166.86L1894.23 159.58L1898.61 152.72L1902.98 146.28L1907.36 140.26L1911.74 134.64L1916.11 129.42L1920.49 124.57L1924.86 120.08L1929.24 115.93L1933.61 112.11L1937.99 108.59L1942.36 105.35L1946.74 102.39L1951.12 99.67L1955.49 97.18L1959.87 94.91L1964.24 92.83L1968.62 90.94L1972.99 89.21L1977.37 87.64L1981.74 86.22L1986.12 84.92L1990.5 83.74L1994.87 82.67L1999.25 81.7L2003.62 80.81L2008 80.01L2012.37 79.29L2016.75 78.63L2021.12 78.04L2025.5 77.5" fill="none" stroke="#0B7F42" stroke-width="3.3" stroke-linejoin="round"/>
</g>
<rect x="1513.3" y="82.35" width="11.2" height="13.3" fill="#000000"/>
<text transform="translate(1536.4 97.2) scale(0.965 1)" font-size="21.7">wt</text>
<ellipse cx="1518.9" cy="120.1" rx="6.3" ry="7.3" fill="#DF2327"/>
<text transform="translate(1536.4 128.03) scale(0.965 1)" font-size="21.7">E51Q &amp; K161E</text>
<path d="M1518.9 138.58L1527.1 156.78L1510.7 156.78Z" fill="#4158A6"/>
<text transform="translate(1536.4 158.86) scale(0.965 1)" font-size="21.7">E51Q &amp; K161E &amp; S158Y &amp; T279Y</text>
<path d="M1518.9 194.22L1527.1 176.02L1510.7 176.02Z" fill="#B453A8"/>
<text transform="translate(1536.4 189.69) scale(0.965 1)" font-size="21.7">D67N &amp; K69E</text>
<path d="M1518.9 202.3L1527.2 212.3L1518.9 222.3L1510.6 212.3Z" fill="#0B7F42"/>
<text transform="translate(1536.4 220.52) scale(0.965 1)" font-size="21.7">D67N &amp; K69E &amp; E84Q &amp; Q87E</text>
<text transform="translate(1879.3 384.85) scale(1.04 1)" font-size="24.4">EC<tspan font-size="17.6" dy="8.4">50</tspan></text>
<text transform="translate(1956.4 384.85) scale(1.04 1)" font-size="24.4">SE</text>
<path d="M1871.5 401.55H2003" stroke="#000" stroke-width="3"/>
<rect x="1860.6" y="416.65" width="11.2" height="13.3" fill="#000000"/>
<text transform="translate(1882.6 432) scale(1.015 1)" font-size="24.4">0.16</text>
<text transform="translate(1949.6 432) scale(1.015 1)" font-size="24.4">0.02</text>
<ellipse cx="1866.2" cy="451.3" rx="6.3" ry="7.3" fill="#DF2327"/>
<text transform="translate(1882.6 459.5) scale(1.015 1)" font-size="24.4">0.77</text>
<text transform="translate(1949.6 459.5) scale(1.015 1)" font-size="24.4">0.08</text>
<path d="M1866.2 469.58L1874.4 487.78L1858 487.78Z" fill="#4158A6"/>
<text transform="translate(1882.6 486.9) scale(1.015 1)" font-size="24.4">0.49</text>
<text transform="translate(1949.6 486.9) scale(1.015 1)" font-size="24.4">0.04</text>
<path d="M1866.2 516.32L1874.4 498.12L1858 498.12Z" fill="#B453A8"/>
<text transform="translate(1882.6 514.4) scale(1.015 1)" font-size="24.4">0.30</text>
<text transform="translate(1949.6 514.4) scale(1.015 1)" font-size="24.4">0.04</text>
<path d="M1866.2 524.2L1874.5 534.2L1866.2 544.2L1857.9 534.2Z" fill="#0B7F42"/>
<text transform="translate(1882.6 542.2) scale(1.015 1)" font-size="24.4">0.29</text>
<text transform="translate(1949.6 542.2) scale(1.015 1)" font-size="24.4">0.02</text>
</svg>
</body></html>
